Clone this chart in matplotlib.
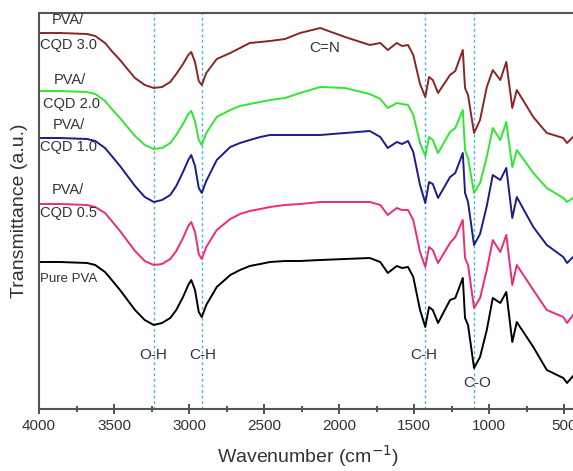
import matplotlib.pyplot as plt
import numpy as np

plt.rcParams['font.family'] = ['Liberation Sans', 'DejaVu Sans']

# wavenumber grid (cm^-1) shared by all spectra
wavenumber = [4000, 3860, 3680, 3625, 3560, 3515, 3460, 3405, 3360, 3295,
              3235, 3180, 3125, 3085, 3040, 3005, 2985, 2960, 2935, 2915,
              2885, 2815, 2725, 2660, 2595, 2525, 2460, 2360, 2260, 2125,
              1960, 1795,
              1725, 1675, 1615, 1580, 1540, 1505, 1460, 1425, 1400, 1375,
              1340, 1260, 1225, 1175, 1160, 1140, 1100, 1060, 1015, 975,
              925, 885, 845, 815, 705, 615, 505, 480, 440]

# transmittance (a.u., stacked)
pure_pva = [147, 147, 146, 144, 137, 129, 119, 108, 99, 89,
            84, 86, 91, 99, 112, 124, 129, 119, 97, 92,
            104, 122, 134, 139, 143, 145, 147, 148, 148, 149,
            150, 151,
            147, 136, 143, 141, 142, 132, 99, 82, 102, 99,
            86, 109, 111, 131, 91, 84, 41, 52, 79, 111,
            106, 117, 67, 87, 62, 39, 31, 26, 33]
cqd_05 = [205, 205, 204, 202, 196, 188, 178, 167, 158, 148,
          144, 145, 150, 158, 171, 183, 187, 177, 155, 150,
          162, 179, 190, 195, 198, 200, 202, 204, 205, 207,
          207, 207,
          204, 194, 201, 199, 199, 189, 157, 142, 162, 159,
          146, 166, 172, 189, 151, 144, 101, 111, 139, 169,
          157, 174, 124, 144, 119, 99, 92, 86, 94]
cqd_10 = [271, 271, 270, 268, 261, 253, 243, 232, 223, 212,
          207, 209, 214, 223, 237, 249, 254, 243, 221, 216,
          228, 249, 262, 266, 269, 272, 274, 274, 274, 274,
          276, 278,
          272, 261, 267, 265, 268, 257, 224, 206, 227, 225,
          211, 232, 236, 256, 216, 207, 164, 175, 203, 234,
          229, 241, 191, 212, 182, 164, 152, 146, 152]
cqd_20 = [318, 318, 317, 315, 308, 300, 291, 281, 273, 264,
          260, 261, 266, 274, 285, 295, 298, 288, 269, 264,
          276, 292, 299, 303, 305, 307, 309, 311, 316, 322,
          321, 315,
          310, 301, 306, 305, 304, 294, 266, 253, 272, 269,
          256, 277, 281, 299, 259, 251, 216, 226, 252, 281,
          269, 287, 242, 259, 236, 221, 211, 207, 211]
cqd_30 = [376, 376, 375, 373, 366, 358, 349, 339, 331, 324,
          321, 322, 327, 335, 345, 354, 357, 347, 328, 324,
          336, 350, 356, 361, 366, 367, 368, 370, 376, 381,
          372, 364,
          366, 359, 366, 363, 364, 354, 325, 312, 332, 329,
          316, 334, 338, 359, 321, 314, 276, 289, 322, 339,
          329, 347, 301, 319, 292, 276, 271, 266, 272]

# band positions marked with dashed guides
band_positions = [3235, 2915, 1425, 1100]

fig = plt.figure(figsize=(5.73, 4.71), dpi=100)
ax = fig.add_axes([39 / 573, 62 / 471, 539 / 573, 396 / 471])

for xv in band_positions:
    ax.axvline(xv, color='#45b4e8', linestyle=(0, (2, 2)), linewidth=1.0, zorder=1)

ax.plot(wavenumber, pure_pva, color='black', linewidth=1.4)
ax.plot(wavenumber, cqd_05, color='#ee2a7b', linewidth=1.4)
ax.plot(wavenumber, cqd_10, color='#1c1c8c', linewidth=1.4)
ax.plot(wavenumber, cqd_20, color='#2ee82e', linewidth=1.4)
ax.plot(wavenumber, cqd_30, color='#8b2525', linewidth=1.4)

# sample labels
lab = dict(color='#333333', fontsize=10.5)
ax.text(3810, 389, 'PVA/', ha='center', va='center', **lab)
ax.text(3993, 364, 'CQD 3.0', ha='left', va='center', **lab)
ax.text(3793, 329, 'PVA/', ha='center', va='center', **lab)
ax.text(3973, 305, 'CQD 2.0', ha='left', va='center', **lab)
ax.text(3800, 284, 'PVA/', ha='center', va='center', **lab)
ax.text(3993, 262, 'CQD 1.0', ha='left', va='center', **lab)
ax.text(3807, 219, 'PVA/', ha='center', va='center', **lab)
ax.text(3993, 196, 'CQD 0.5', ha='left', va='center', **lab)
ax.text(3993, 130, 'Pure PVA', ha='left', va='center', color='#333333', fontsize=9.5)

# band assignments
ann = dict(color='#333333', fontsize=11, ha='center', va='center')
ax.text(2093, 361, 'C=N', **ann)
ax.text(3240, 54, 'O-H', **ann)
ax.text(2907, 54, 'C-H', **ann)
ax.text(1433, 54, 'C-H', **ann)
ax.text(1080, 26, 'C-O', **ann)

ax.set_xlim(4000, 407)
ax.set_ylim(0, 396)
ax.set_xticks([4000, 3500, 3000, 2500, 2000, 1500, 1000, 500])
ax.set_xticks([3750, 3250, 2750, 2250, 1750, 1250, 750], minor=True)
ax.set_yticks([])
ax.tick_params(axis='x', which='major', direction='inout', length=7, width=1.2,
               labelsize=11, colors='#333333', pad=4)
ax.tick_params(axis='x', which='minor', direction='inout', length=5, width=1.2, colors='#333333')
for s in ax.spines.values():
    s.set_color('#555555')
    s.set_linewidth(1.5)

ax.set_xlabel('Wavenumber (cm$^{-1}$)', fontsize=14, color='#333333', labelpad=7)
ax.set_ylabel('Transmittance (a.u.)', fontsize=14, color='#333333', labelpad=8)

fig.savefig('out.png', dpi=100)
